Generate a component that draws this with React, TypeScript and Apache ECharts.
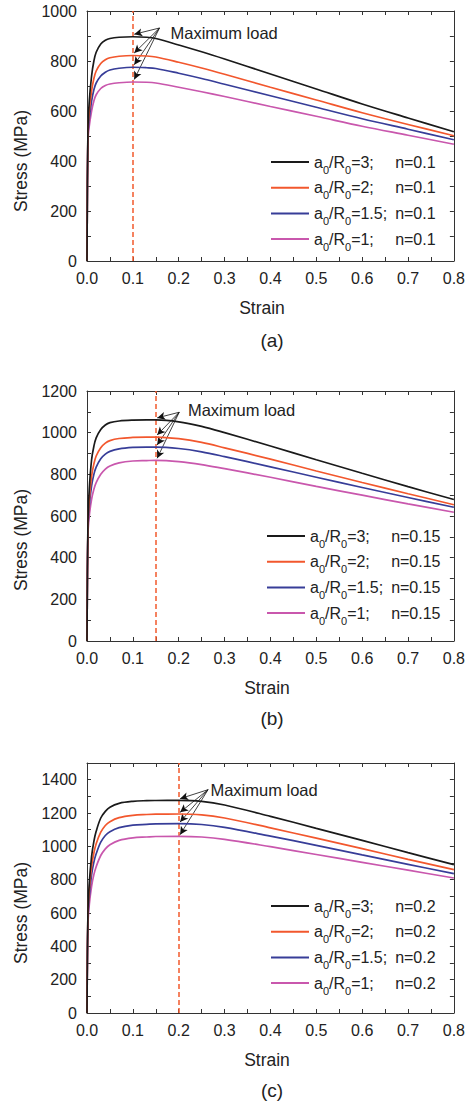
import React, { useEffect, useRef } from "react";
import * as echarts from "echarts";

// ---------- data ----------
const strain = [0, 0.002, 0.005, 0.01, 0.015, 0.02, 0.03, 0.04, 0.05, 0.07, 0.1, 0.13, 0.15, 0.2, 0.25, 0.3, 0.4, 0.5, 0.6, 0.7, 0.8];

const ratios = ["3", "2", "1.5", "1"];
const nValues = ["0.1", "0.15", "0.2"];
const panelTags = ["(a)", "(b)", "(c)"];
const yMax = [1000, 1200, 1500];

// panel (a) n = 0.1
const stressA3 = [0, 520, 640, 740, 800, 835, 868, 883, 890, 895, 897, 895, 890, 864, 837, 808, 748, 688, 628, 572, 517];
const stressA2 = [0, 510, 600, 680, 730, 760, 790, 805, 813, 819, 822, 820, 816, 795, 772, 747, 695, 644, 593, 546, 501];
const stressA15 = [0, 500, 570, 640, 685, 712, 740, 755, 764, 771, 775, 773, 770, 751, 730, 707, 661, 615, 569, 527, 485];
const stressA1 = [0, 480, 540, 600, 640, 665, 690, 702, 708, 713, 716, 715, 712, 695, 677, 658, 618, 579, 539, 503, 467];

// panel (b) n = 0.15
const stressB3 = [0, 560, 730, 870, 935, 975, 1015, 1037, 1048, 1056, 1060, 1061, 1061, 1052, 1030, 1000, 936, 870, 805, 741, 679];
const stressB2 = [0, 540, 680, 790, 850, 888, 928, 950, 962, 972, 977, 979, 979, 971, 953, 927, 873, 816, 761, 707, 654];
const stressB15 = [0, 530, 650, 745, 800, 835, 875, 897, 910, 922, 929, 931, 931, 924, 908, 885, 836, 786, 737, 689, 642];
const stressB1 = [0, 510, 600, 680, 728, 760, 800, 825, 840, 855, 864, 866, 867, 861, 847, 827, 786, 742, 700, 658, 618];

// panel (c) n = 0.2
const stressC3 = [0, 600, 780, 940, 1030, 1090, 1170, 1210, 1235, 1258, 1270, 1274, 1275, 1276, 1270, 1248, 1180, 1108, 1036, 962, 890];
const stressC2 = [0, 580, 740, 880, 960, 1015, 1085, 1125, 1148, 1172, 1186, 1191, 1193, 1194, 1189, 1170, 1111, 1049, 986, 922, 860];
const stressC15 = [0, 560, 700, 830, 905, 955, 1025, 1065, 1088, 1112, 1127, 1132, 1135, 1136, 1131, 1114, 1061, 1006, 949, 892, 836];
const stressC1 = [0, 530, 650, 760, 830, 878, 945, 985, 1010, 1036, 1051, 1056, 1059, 1060, 1056, 1042, 998, 951, 904, 857, 810];

const panels = [
  [stressA3, stressA2, stressA15, stressA1],
  [stressB3, stressB2, stressB15, stressB1],
  [stressC3, stressC2, stressC15, stressC1],
];

// "Maximum load" annotation: arrow origin and text anchor (data coords)
const arrowOrigin = [[0.158, 932], [0.201, 1098], [0.264, 1340]];
const textAnchor = [[0.181, 914], [0.219, 1109], [0.268, 1336]];

const colors = ["#1a1a1a", "#f2572d", "#373d98", "#c957ad"];
const FONT = "'Liberation Sans', Arial, Helvetica, sans-serif";
const TXT = "#222";

const gridTops = [11, 391, 763];
const legendPos = [
  [270, 153],
  [266, 527],
  [270, 897],
];
const strainLabelPos = [[262, 308], [267, 688], [267, 1060]];
const stressLabelY = [161, 540, 913];
const tagY = [340, 718, 1090];

function seriesName(p: number, i: number) {
  return `a0/R0=${ratios[i]}; n=${nValues[p]}`;
}

export default function App() {
  const ref = useRef<HTMLDivElement>(null);

  useEffect(() => {
    document.body.style.margin = "0";
    if (!ref.current) return;
    const chart = echarts.init(ref.current, null, { renderer: "svg" });

    const grid: any[] = [];
    const xAxis: any[] = [];
    const yAxis: any[] = [];
    const series: any[] = [];
    const legend: any[] = [];
    const graphic: any[] = [];

    const axisLine = { show: true, onZero: false, lineStyle: { color: "#333", width: 1 } };
    const tick = { show: true, inside: true, length: 4, lineStyle: { color: "#333", width: 1 } };

    panels.forEach((vals, p) => {
      grid.push({ left: 87, right: 11, top: gridTops[p], height: 250, containLabel: false });
      const xBase = {
        type: "value",
        gridIndex: p,
        min: 0,
        max: 0.8,
        interval: 0.05,
        splitLine: { show: false },
        axisLine,
        axisTick: tick,
      };
      xAxis.push({
        ...xBase,
        position: "bottom",
        axisLabel: {
          show: true,
          margin: 9,
          fontSize: 16,
          color: TXT,
          fontFamily: FONT,
          formatter: (v: number) => {
            const t = Math.round(v * 100);
            return t % 10 === 0 ? (t / 100).toFixed(1) : "";
          },
        },
      });
      xAxis.push({ ...xBase, position: "top", axisLabel: { show: false } });

      const yBase = {
        type: "value",
        gridIndex: p,
        min: 0,
        max: yMax[p],
        interval: 100,
        splitLine: { show: false },
        axisLine,
        axisTick: tick,
      };
      yAxis.push({
        ...yBase,
        position: "left",
        axisLabel: {
          show: true,
          margin: 10,
          fontSize: 16,
          color: TXT,
          fontFamily: FONT,
          formatter: (v: number) => (v % 200 === 0 ? String(v) : ""),
        },
      });
      yAxis.push({ ...yBase, position: "right", axisLabel: { show: false } });

      const nVal = parseFloat(nValues[p]);
      vals.forEach((arr, i) => {
        const peak = Math.max(...arr);
        const markLineData: any[] = [
          [
            { coord: arrowOrigin[p], symbol: "none" },
            { coord: [nVal + 0.003, peak + 10], symbol: "arrow", symbolSize: [6, 8] },
          ],
        ];
        if (i === 0) {
          markLineData.push({
            xAxis: nVal,
            lineStyle: { type: [5, 3], color: "#f25a2c", width: 1.5 },
          });
        }
        const s: any = {
          type: "line",
          name: seriesName(p, i),
          xAxisIndex: 2 * p,
          yAxisIndex: 2 * p,
          data: strain.map((x, k) => [x, arr[k]]),
          symbol: "none",
          smooth: 0.35,
          lineStyle: { color: colors[i], width: 1.7 },
          itemStyle: { color: colors[i] },
          z: 10 - i,
          markLine: {
            silent: true,
            animation: false,
            symbol: ["none", "none"],
            symbolSize: [6, 8],
            label: { show: false },
            lineStyle: { color: "#111", width: 0.8, type: "solid" },
            data: markLineData,
          },
        };
        if (i === 0) {
          s.markPoint = {
            silent: true,
            animation: false,
            data: [
              {
                coord: textAnchor[p],
                symbol: "circle",
                symbolSize: 1,
                itemStyle: { color: "rgba(0,0,0,0)" },
                label: {
                  show: true,
                  position: "right",
                  distance: 0,
                  formatter: "Maximum load",
                  fontSize: 16.5,
                  color: TXT,
                  fontFamily: FONT,
                },
              },
            ],
          };
        }
        series.push(s);
      });

      legend.push({
        orient: "vertical",
        left: legendPos[p][0],
        top: legendPos[p][1],
        padding: 0,
        itemWidth: 38,
        itemHeight: 22,
        itemGap: 3.7,
        selectedMode: false,
        itemStyle: { opacity: 0 },
        lineStyle: { width: 2 },
        data: ratios.map((_, i) => seriesName(p, i)),
        formatter: (name: string) => {
          const m = name.match(/=([\d.]+); n=([\d.]+)/);
          const r = m ? m[1] : "";
          const n = m ? m[2] : "";
          return `{n|a}{s|0}{n|/R}{s|0}{w|=${r};}{n|n=${n}}`;
        },
        textStyle: {
          fontFamily: FONT,
          color: TXT,
          fontSize: 16,
          rich: {
            n: { fontSize: 16, fontFamily: FONT, color: TXT, lineHeight: 18, verticalAlign: "middle" },
            w: { fontSize: 16, fontFamily: FONT, color: TXT, lineHeight: 18, width: 44, verticalAlign: "middle" },
            s: { fontSize: 11, fontFamily: FONT, color: TXT, lineHeight: 11, padding: [11, 0, 0, 0], verticalAlign: "top" },
          },
        },
      });

      graphic.push({
        type: "text",
        x: 21,
        y: stressLabelY[p],
        rotation: Math.PI / 2,
        style: { text: "Stress (MPa)", fontSize: 17.5, fontFamily: FONT, fill: TXT, align: "center", verticalAlign: "middle" },
      });
      graphic.push({
        type: "text",
        x: strainLabelPos[p][0],
        y: strainLabelPos[p][1],
        style: { text: "Strain", fontSize: 17.5, fontFamily: FONT, fill: TXT, align: "center", verticalAlign: "middle" },
      });
      graphic.push({
        type: "text",
        x: 272,
        y: tagY[p],
        style: { text: panelTags[p], fontSize: 19, fontFamily: FONT, fill: TXT, align: "center", verticalAlign: "middle" },
      });
    });

    chart.setOption({
      animation: false,
      backgroundColor: "#ffffff",
      grid,
      xAxis,
      yAxis,
      legend,
      series,
      graphic,
    });

    return () => chart.dispose();
  }, []);

  return <div ref={ref} style={{ width: 468, height: 1108 }} />;
}
